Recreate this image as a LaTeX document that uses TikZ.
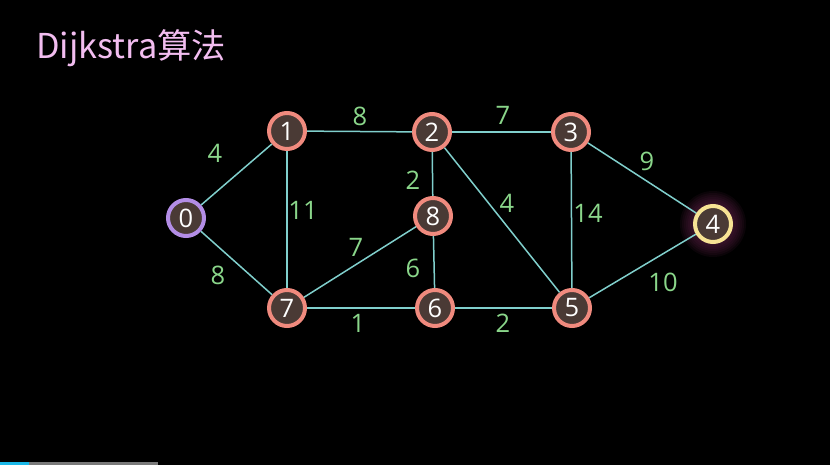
\documentclass[tikz,border=0pt]{standalone}
\usepackage{fontspec}
\setmainfont{Open Sans}
\newfontfamily\cjk{Noto Sans CJK SC}
\definecolor{edgecyan}{HTML}{80CFCC}
\definecolor{weightgreen}{HTML}{8AD68A}
\definecolor{nodebrown}{HTML}{4A3A35}
\definecolor{ringred}{HTML}{F08A7E}
\definecolor{ringpurple}{HTML}{B38DE6}
\definecolor{ringyellow}{HTML}{F7E394}
\definecolor{glowpink}{HTML}{5E2248}
\definecolor{titlepink}{HTML}{F2BDF0}
\definecolor{barcyan}{HTML}{1AB8E8}
\definecolor{bargray}{HTML}{7A7A7A}
\tikzset{
  vertex/.style={
    circle, draw=ringred, line width=0.08cm, fill=nodebrown, text=white,
    inner sep=0pt, minimum size=0.72cm, font=\fontsize{14.5}{16}\selectfont
  },
  start vertex/.style={vertex, draw=ringpurple},
  end vertex/.style={vertex, draw=ringyellow},
  weight/.style={
    text=weightgreen, inner sep=0pt, font=\fontsize{14.5}{16}\selectfont
  },
  edge line/.style={draw=edgecyan, line width=0.03cm}
}

\begin{document}
\begin{tikzpicture}[x=0.02cm, y=-0.02cm]

% 背景
\fill[black] (0,0) rectangle (830,465);
\useasboundingbox (0,0) rectangle (830,465);

% 标题
\node[text=titlepink, font=\cjk\fontsize{19.5}{22}\selectfont, anchor=west] (title) at (30,48) {Dijkstra算法};

% 终点的光晕
\coordinate (g4) at (713,224);
\foreach \r in {21,23,...,33} {
  \fill[glowpink, opacity=0.12] (g4) circle (\r);
}

% 顶点
\node[start vertex] (n0) at (186,218) {0};
\node[vertex]       (n1) at (287,131) {1};
\node[vertex]       (n2) at (432,132) {2};
\node[vertex]       (n3) at (571,132) {3};
\node[end vertex]   (n4) at (713,224) {4};
\node[vertex]       (n5) at (572,308) {5};
\node[vertex]       (n6) at (435,308) {6};
\node[vertex]       (n7) at (287,308) {7};
\node[vertex]       (n8) at (433,216) {8};

% 边
\draw[edge line] (n0) -- (n1);
\draw[edge line] (n0) -- (n7);
\draw[edge line] (n1) -- (n7);
\draw[edge line] (n1) -- (n2);
\draw[edge line] (n2) -- (n3);
\draw[edge line] (n2) -- (n8);
\draw[edge line] (n2) -- (n5);
\draw[edge line] (n8) -- (n7);
\draw[edge line] (n8) -- (n6);
\draw[edge line] (n7) -- (n6);
\draw[edge line] (n6) -- (n5);
\draw[edge line] (n3) -- (n5);
\draw[edge line] (n3) -- (n4);
\draw[edge line] (n5) -- (n4);

% 权值
\node[weight] (w01) at (215,153) {4};
\node[weight] (w07) at (218,275) {8};
\node[weight] (w17) at (303,210) {11};
\node[weight] (w12) at (360,116) {8};
\node[weight] (w23) at (503,115) {7};
\node[weight] (w28) at (413,180) {2};
\node[weight] (w87) at (356,247) {7};
\node[weight] (w86) at (413,268) {6};
\node[weight] (w76) at (358,323) {1};
\node[weight] (w65) at (503,323) {2};
\node[weight] (w25) at (507,203) {4};
\node[weight] (w35) at (588,213) {14};
\node[weight] (w34) at (647,161) {9};
\node[weight] (w54) at (663,282) {10};

% 进度条
\fill[barcyan] (0,462) rectangle (29,465);
\fill[bargray] (29,462) rectangle (158,465);

\end{tikzpicture}
\end{document}
